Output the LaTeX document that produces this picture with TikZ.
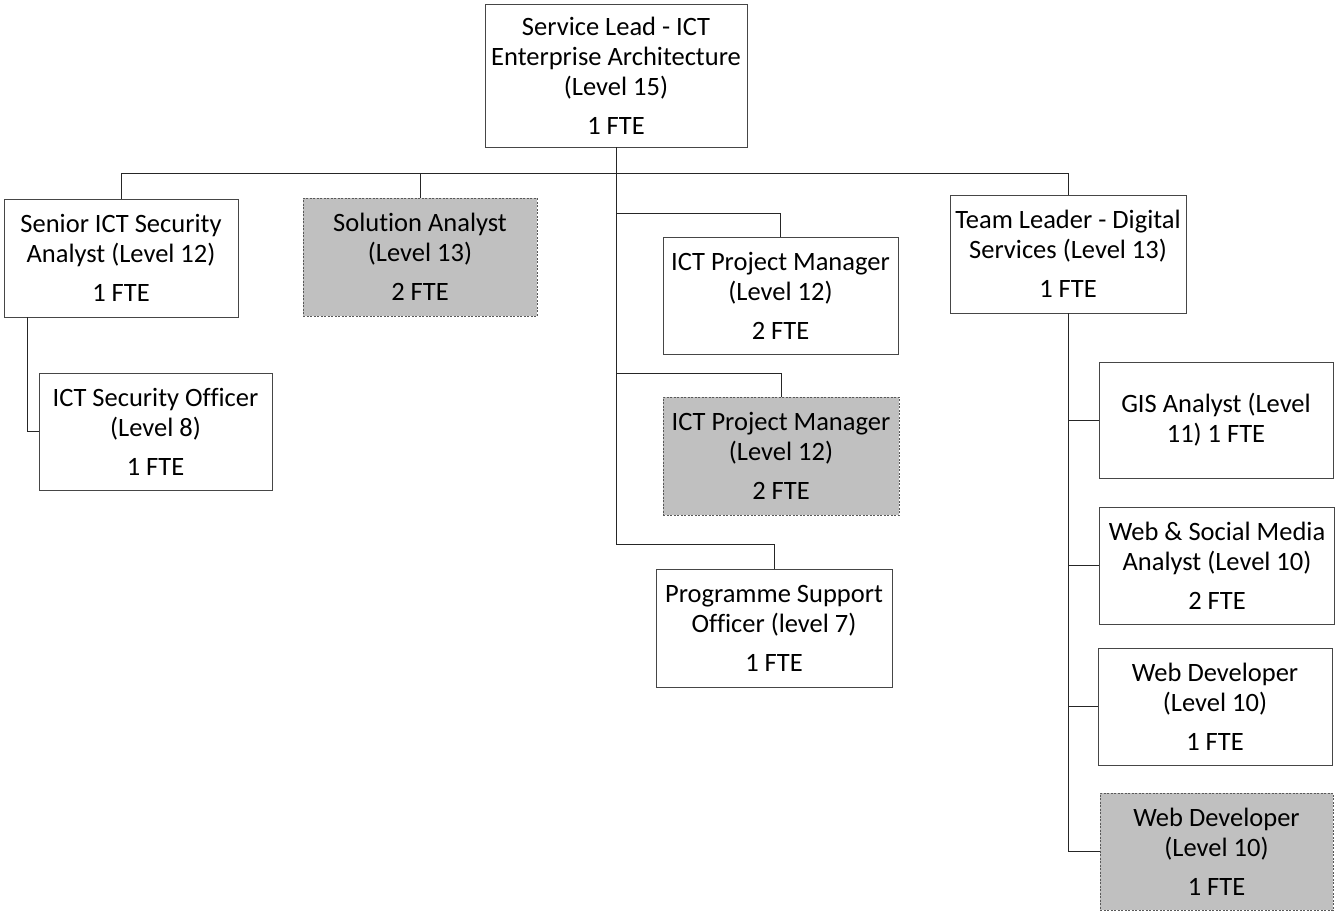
\documentclass[tikz,border=0pt]{standalone}
\usepackage{fontspec}
\setmainfont{Carlito}[Ligatures=NoCommon]
\definecolor{boxgrey}{RGB}{192,192,192}
\definecolor{edge}{RGB}{70,70,70}
\begin{document}
\begin{tikzpicture}[x=1pt,y=-1pt,
  box/.style={draw=edge, line width=0.9pt, fill=white, align=center, inner sep=0pt,
    font=\fontsize{26.5}{30}\selectfont, text=black},
  vacant/.style={box, fill=boxgrey, draw=black!65, dash pattern=on 2pt off 1.5pt},
  conn/.style={draw=black!85, line width=1pt}]
\useasboundingbox (0,0) rectangle (1337,914);

\node[box, minimum width=262pt, minimum height=143pt] (top) at (616,75.5)
  {Service Lead - ICT\\Enterprise Architecture\\(Level 15)\\[9pt]1 FTE};
\node[box, minimum width=234pt, minimum height=118pt] (senior) at (121,258)
  {Senior ICT Security\\Analyst (Level 12)\\[9pt]1 FTE};
\node[box, minimum width=233pt, minimum height=117pt] (officer) at (155.5,431.5)
  {ICT Security Officer\\(Level 8)\\[9pt]1 FTE};
\node[vacant, minimum width=234pt, minimum height=118pt] (solution) at (420,257)
  {Solution Analyst\\(Level 13)\\[9pt]2 FTE};
\node[box, minimum width=235pt, minimum height=117pt] (pm1) at (780.5,295.5)
  {ICT Project Manager\\(Level 12)\\[9pt]2 FTE};
\node[vacant, minimum width=236pt, minimum height=118pt] (pm2) at (781,456)
  {ICT Project Manager\\(Level 12)\\[9pt]2 FTE};
\node[box, minimum width=236pt, minimum height=118pt] (prog) at (774,628)
  {Programme Support\\Officer (level 7)\\[9pt]1 FTE};
\node[box, minimum width=236pt, minimum height=118pt] (team) at (1068,254)
  {Team Leader - Digital\\Services (Level 13)\\[9pt]1 FTE};
\node[box, minimum width=234pt, minimum height=116pt] (gis) at (1216,420)
  {GIS Analyst (Level\\11) 1 FTE};
\node[box, minimum width=235pt, minimum height=117pt] (social) at (1217,565.5)
  {Web \& Social Media\\Analyst (Level 10)\\[9pt]2 FTE};
\node[box, minimum width=234pt, minimum height=117pt] (webdev) at (1215,706.5)
  {Web Developer\\(Level 10)\\[9pt]1 FTE};
\node[vacant, minimum width=233pt, minimum height=117pt] (webdev2) at (1216.5,851.5)
  {Web Developer\\(Level 10)\\[9pt]1 FTE};

\coordinate (busL) at (121,173);
\coordinate (busR) at (1068,173);
\coordinate (t1) at (616,213);
\coordinate (t2) at (616,373);
\coordinate (t3) at (616,544);

\draw[conn] (busL) -- (busR);
\draw[conn] (top.south) -- (t3) -| (prog.north);
\draw[conn] (t1) -| (pm1.north);
\draw[conn] (t2) -| (pm2.north);
\draw[conn] (busL) -- (senior.north);
\draw[conn] (solution.north |- busL) -- (solution.north);
\draw[conn] (busR) -- (team.north);
\draw[conn] ([xshift=-94pt]senior.south) |- (officer.west);
\draw[conn] (team.south) -- (team.south |- webdev2.west) -- (webdev2.west);
\draw[conn] (team.south |- gis.west) -- (gis.west);
\draw[conn] (team.south |- social.west) -- (social.west);
\draw[conn] (team.south |- webdev.west) -- (webdev.west);
\end{tikzpicture}
\end{document}
